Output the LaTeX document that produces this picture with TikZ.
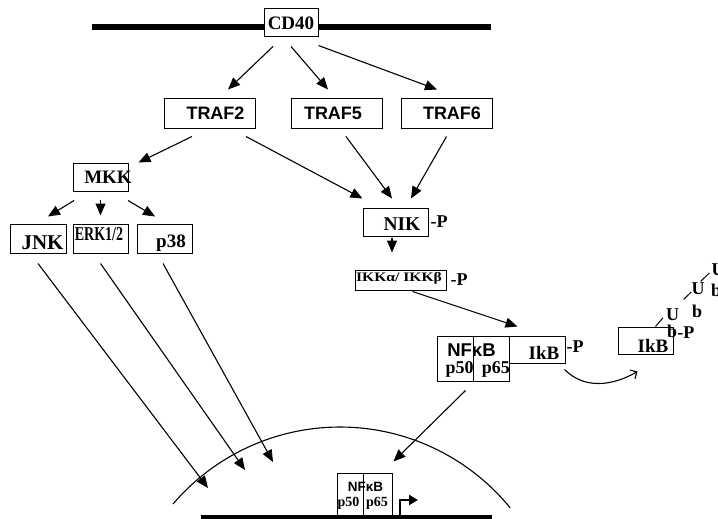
\documentclass[tikz,border=0pt]{standalone}
\usepackage{fontspec}
\setmainfont{Liberation Serif}
\setsansfont{Liberation Sans}
\usetikzlibrary{positioning,arrows.meta}

\newcommand{\fs}[1]{\fontsize{#1}{#1}\selectfont}

\begin{document}
\begin{tikzpicture}[x=1pt, y=-1pt,
  bx/.style={draw, line width=1pt, fill=white, inner sep=0pt},
  tx/.style={inner sep=0pt, font=\bfseries\fs{19}},
  sf/.style={inner sep=0pt, font=\sffamily\bfseries\fs{18}},
  a/.style={-{Triangle[length=12pt, width=10pt]}, line width=1.1pt},
  mem/.style={line width=5.5pt}]
  \useasboundingbox (0,0) rectangle (718,519);

  \coordinate (memL) at (92,27);
  \coordinate (memR) at (491,27);
  \draw[mem] (memL) -- (memR);
  \node[bx, tx, minimum width=54pt, minimum height=28pt] (CD40) at (291,23) {CD40};

  \node[bx, sf, minimum width=91pt, minimum height=29pt] (TRAF2) at (210,113.5) {\hspace*{11pt}TRAF2};
  \node[bx, sf, minimum width=91pt, minimum height=29pt] (TRAF5) at (337,113.5) {TRAF5\hspace*{8pt}};
  \node[bx, sf, minimum width=91pt, minimum height=29pt] (TRAF6) at (446.5,113.5) {\hspace*{11pt}TRAF6};

  \node[bx, minimum width=55pt, minimum height=28pt, label={[tx, xshift=7.5pt]center:MKK}] (MKK) at (100.5,177) {};
  \node[bx, minimum width=56pt, minimum height=29pt, label={[tx, font=\bfseries\fs{21}, xshift=4.5pt, yshift=-4pt]center:JNK}] (JNK) at (38,238.5) {};
  \node[bx, minimum width=55pt, minimum height=29pt, label={[tx, font=\bfseries\fs{14}, xshift=-1.5pt, yshift=4.5pt]center:\scalebox{1}[1.4]{ERK1/2}}] (ERK) at (100.5,238.5) {};
  \node[bx, minimum width=55pt, minimum height=29pt, label={[tx, xshift=6.5pt, yshift=-5pt]center:p38}] (p38) at (164.5,238.5) {};

  \node[bx, minimum width=65pt, minimum height=28pt, label={[tx, font=\bfseries\fs{19.5}, xshift=6.5pt, yshift=-2.5pt]center:NIK}] (NIK) at (395.5,222) {};
  \node[tx, font=\bfseries\fs{18}, right=2pt of NIK] (NIKP) {-P};
  \node[bx, minimum width=91pt, minimum height=20pt, label={[tx, font=\bfseries\fs{13}, xshift=-1.5pt, yshift=1.5pt]center:\scalebox{1.2}[1]{IKKα/ IKKβ}}] (IKK) at (400.5,280) {};
  \node[tx, font=\bfseries\fs{18}, right=4pt of IKK] (IKKP) {-P};

  \node[bx, minimum width=36pt, minimum height=45pt] (p50) at (455,358.5) {};
  \node[bx, minimum width=36pt, minimum height=45pt] (p65) at (491,358.5) {};
  \node[bx, minimum width=56pt, minimum height=27pt, label={[tx, xshift=7pt, yshift=-3.5pt]center:IkB}] (IkB) at (537,349.5) {};
  \node[tx, font=\bfseries\fs{18}, right=1pt of IkB, yshift=2.5pt] (IkBP) {-P};
  \node[sf, font=\sffamily\bfseries\fs{18.5}] (nfk) at (471.5,349.7) {NFκB};
  \node[tx, font=\bfseries\fs{18}] (t50) at (459.7,369.5) {p50};
  \node[tx, font=\bfseries\fs{18}] (t65) at (495.8,369.5) {p65};

  \node[bx, minimum width=55pt, minimum height=27pt, label={[tx, xshift=7.5pt, yshift=-5pt]center:IkB}] (rIkB) at (645.5,340.5) {};
  \node[tx, font=\bfseries\fs{18}] (U1) at (672.5,315) {U};
  \node[tx, font=\bfseries\fs{18}] (b1) at (672,331) {b};
  \node[tx, font=\bfseries\fs{18}, right=0pt of b1, yshift=-2pt] (rP) {-P};
  \node[tx, font=\bfseries\fs{18}] (U2) at (698,289) {U};
  \node[tx, font=\bfseries\fs{18}] (b2) at (697,311) {b};
  \node[tx, font=\bfseries\fs{18}] (U3) at (718,270) {U};
  \node[tx, font=\bfseries\fs{18}] (b3) at (716,290) {b};
  \draw[line width=1pt] ([xshift=10pt]rIkB.north) -- ([xshift=-3pt,yshift=-3pt]U1.west);
  \draw[line width=1pt] ([xshift=4.4pt,yshift=9.4pt]U1.north east) -- ([yshift=-3pt]U2.west);
  \draw[line width=1pt] ([xshift=-4pt,yshift=1.4pt]U2.north east) -- ([xshift=-2pt,yshift=-3pt]U3.west);

  \draw[line width=1.1pt] (173,504) arc[start angle=139.5, end angle=39.2, radius=219.6pt];
  \coordinate (jnkend) at (208,488);
  \coordinate (erkend) at (245,470);
  \coordinate (p38end) at (273,462);

  \node[bx, minimum width=26pt, minimum height=42pt] (p50b) at (350,494) {};
  \node[bx, minimum width=29pt, minimum height=42pt] (p65b) at (377.5,494) {};
  \node[sf, font=\sffamily\bfseries\fs{13.5}] (nfkb) at (365.5,486.5) {NFκB};
  \node[tx, font=\bfseries\fs{14}] (b50) at (348.5,503) {p50};
  \node[tx, font=\bfseries\fs{14}] (b65) at (377,503) {p65};
  \coordinate (tss) at (400,515);
  \draw[line width=2pt, -{Triangle[length=9pt, width=10pt]}] (tss) |- ++(18,-15);
  \coordinate (dnaL) at (201,517.5);
  \coordinate (dnaR) at (492,517.5);
  \draw[mem] (dnaL) -- (dnaR);

  \draw[a] ([xshift=-18pt,yshift=-9pt]CD40.south) -- ([xshift=18pt,yshift=9pt]TRAF2.north);
  \draw[a] ([yshift=-9pt]CD40.south) -- ([xshift=-9pt,yshift=9pt]TRAF5.north);
  \draw[a] ([yshift=-8pt]CD40.south east) -- ([xshift=-9.5pt,yshift=9pt]TRAF6.north);
  \draw[a] ([xshift=-18pt,yshift=-8pt]TRAF2.south) -- ([xshift=10pt]MKK.north east);
  \draw[a] ([xshift=36pt,yshift=-8pt]TRAF2.south) -- ([yshift=9pt]NIK.north west);
  \draw[a] ([xshift=9pt,yshift=-8pt]TRAF5.south) -- ([xshift=-3.5pt,yshift=9pt]NIK.north);
  \draw[a] ([yshift=-8pt]TRAF6.south) -- ([xshift=15.5pt,yshift=9pt]NIK.north);
  \draw[a] ([xshift=-26.5pt,yshift=-9pt]MKK.south) -- ([xshift=10pt,yshift=7pt]JNK.north);
  \draw[a] ([yshift=-8pt]MKK.south) -- ([yshift=8pt]ERK.north);
  \draw[a] ([xshift=27.5pt,yshift=-9pt]MKK.south) -- ([xshift=-9.5pt,yshift=7pt]p38.north);
  \draw[a] ([yshift=-10pt]JNK.south) -- (jnkend);
  \draw[a] ([yshift=-10pt]ERK.south) -- (erkend);
  \draw[a] ([xshift=-1.5pt,yshift=-10pt]p38.south) -- (p38end);
  \draw[a] ([xshift=-3.5pt,yshift=-1pt]NIK.south) -- ([xshift=-8.5pt,yshift=17pt]IKK.north);
  \draw[a] ([xshift=12pt,yshift=-1pt]IKK.south) -- ([xshift=9pt,yshift=9pt]IkB.north west);
  \draw[a] ([xshift=-8pt,yshift=-9pt]p50.south east) -- ([xshift=1pt,yshift=11pt]p65b.north east);
  \draw[line width=1.1pt, -{Straight Barb[length=5pt, width=10pt]}] ([xshift=-1pt,yshift=-6pt]IkB.south east) to[out=-45, in=-150] ([xshift=20pt,yshift=-17pt]rIkB.south west);
\end{tikzpicture}
\end{document}
